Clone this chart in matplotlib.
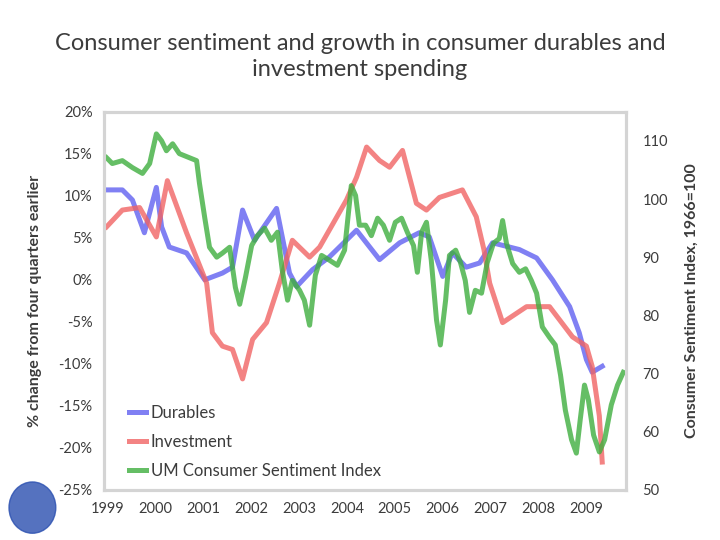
import matplotlib
matplotlib.use("Agg")
import matplotlib.pyplot as plt
from matplotlib.patches import Ellipse

plt.rcParams['font.family'] = ['Lato', 'DejaVu Sans']

# durables, % change from four quarters earlier
dur_t = [1998.98, 1999.31, 1999.52, 1999.77, 2000.02, 2000.13, 2000.29, 2000.65,
         2001.03, 2001.40, 2001.61, 2001.82, 2002.07, 2002.53, 2002.80, 2002.95,
         2003.28, 2003.63, 2004.20, 2004.68, 2005.10, 2005.51, 2005.72, 2006.00,
         2006.20, 2006.49, 2006.77, 2007.04, 2007.60, 2007.96, 2008.29, 2008.65,
         2008.85, 2009.00, 2009.12, 2009.33]
dur_v = [10.7, 10.7, 9.5, 5.6, 11.0, 6.3, 3.9, 3.2,
         0.0, 0.8, 1.5, 8.3, 4.7, 8.5, 0.8, -0.8,
         1.2, 2.7, 5.9, 2.4, 4.4, 5.6, 5.1, 0.4,
         3.2, 1.5, 2.0, 4.4, 3.6, 2.6, 0.0, -3.2,
         -6.3, -9.5, -11.0, -10.3]

# investment, % change from four quarters earlier
inv_t = [1998.98, 1999.31, 1999.67, 2000.02, 2000.25, 2000.65, 2001.07, 2001.19,
         2001.40, 2001.61, 2001.82, 2002.03, 2002.32, 2002.59, 2002.86, 2003.22,
         2003.43, 2003.99, 2004.20, 2004.41, 2004.68, 2004.89, 2005.16, 2005.45,
         2005.66, 2005.93, 2006.41, 2006.70, 2006.86, 2006.98, 2007.25, 2007.75,
         2008.23, 2008.71, 2009.00, 2009.12, 2009.27, 2009.33]
inv_v = [6.3, 8.3, 8.6, 5.1, 11.8, 5.6, -0.4, -6.3,
         -7.9, -8.3, -11.8, -7.1, -5.1, -0.4, 4.7, 2.7,
         3.9, 9.5, 12.2, 15.8, 14.2, 13.4, 15.4, 9.1,
         8.3, 9.8, 10.7, 7.5, 3.6, -0.4, -5.1, -3.2,
         -3.2, -6.8, -7.9, -10.3, -16.2, -21.7]

# UM consumer sentiment index, 1966=100
sent_t = [1998.98, 1999.10, 1999.31, 1999.52, 1999.73, 1999.88, 2000.02, 2000.13,
          2000.23, 2000.36, 2000.50, 2000.71, 2000.86, 2000.92, 2001.03, 2001.13,
          2001.28, 2001.40, 2001.55, 2001.67, 2001.76, 2001.88, 2002.01, 2002.13,
          2002.28, 2002.42, 2002.55, 2002.65, 2002.76, 2002.86, 2003.01, 2003.11,
          2003.22, 2003.34, 2003.47, 2003.63, 2003.80, 2003.95, 2004.09, 2004.18,
          2004.26, 2004.39, 2004.51, 2004.64, 2004.76, 2004.89, 2005.01, 2005.14,
          2005.26, 2005.39, 2005.47, 2005.56, 2005.66, 2005.76, 2005.87, 2005.95,
          2006.06, 2006.14, 2006.27, 2006.37, 2006.47, 2006.56, 2006.68, 2006.81,
          2006.93, 2007.06, 2007.18, 2007.25, 2007.33, 2007.46, 2007.60, 2007.73,
          2007.85, 2007.96, 2008.08, 2008.23, 2008.35, 2008.46, 2008.56, 2008.69,
          2008.79, 2008.87, 2008.96, 2009.04, 2009.15, 2009.27, 2009.38, 2009.52,
          2009.65, 2009.77]
sent_v = [107.1, 106.1, 106.6, 105.4, 104.4, 106.1, 111.2, 110.0,
          108.3, 109.5, 107.8, 107.1, 106.6, 102.7, 96.8, 91.7,
          90.0, 90.7, 91.7, 84.8, 81.9, 86.5, 92.0, 93.7,
          95.0, 92.9, 94.3, 87.7, 82.6, 86.0, 84.3, 82.6,
          78.3, 86.9, 90.3, 89.5, 88.6, 91.2, 102.3, 100.6,
          95.5, 95.5, 93.7, 96.7, 95.5, 92.9, 96.0, 96.7,
          94.3, 92.0, 87.4, 94.3, 96.0, 89.5, 79.2, 74.9,
          82.6, 90.3, 91.2, 89.1, 86.0, 80.5, 84.3, 83.8,
          89.1, 92.4, 93.2, 96.3, 92.4, 88.9, 87.4, 88.0,
          86.0, 83.8, 78.0, 76.2, 74.9, 69.7, 63.7, 58.6,
          56.3, 62.0, 68.0, 65.5, 59.4, 56.5, 58.6, 64.6,
          68.0, 70.2]

left_ticks = [20, 15, 10, 5, 0, -5, -10, -15, -20, -25]
right_ticks = [50, 60, 70, 80, 90, 100, 110]
years = list(range(1999, 2010))

txt = '#3c3c3c'
edge = '#d4d4d4'

fig = plt.figure(figsize=(7.2, 5.4), dpi=100)
ax = fig.add_axes([0.144, 0.093, 0.725, 0.700])
ax2 = ax.twinx()

l1, = ax.plot(dur_t, dur_v, color='#6060f0', lw=3.6, alpha=0.8, label='Durables')
l2, = ax.plot(inv_t, inv_v, color='#f06464', lw=3.6, alpha=0.8, label='Investment')
l3, = ax2.plot(sent_t, sent_v, color='#3fae3f', lw=3.6, alpha=0.8,
               label='UM Consumer Sentiment Index')

ax.set_xlim(1998.92, 2009.82)
ax.set_ylim(-25, 20)
ax2.set_ylim(50, 115)
ax.set_xticks(years)
ax.set_xticklabels([str(y) for y in years])
ax.set_yticks(left_ticks)
ax.set_yticklabels(['%d%%' % v for v in left_ticks])
ax2.set_yticks(right_ticks)

for a in (ax, ax2):
    for s in a.spines.values():
        s.set_color(edge)
        s.set_linewidth(2.2)
    a.tick_params(colors=txt, labelsize=10.5, length=0)
ax.tick_params(axis='x', pad=9)
ax.tick_params(axis='y', pad=8)
ax2.tick_params(axis='y', pad=12)

ax.set_ylabel('% change from four quarters earlier', fontsize=11.5,
              fontweight='bold', color=txt, labelpad=12)
ax2.set_ylabel('Consumer Sentiment Index, 1966=100', fontsize=11.5,
               fontweight='bold', color=txt, rotation=90, labelpad=12)

fig.text(0.5, 0.895, 'Consumer sentiment and growth in consumer durables and\ninvestment spending',
         ha='center', va='center', fontsize=17, color=txt, linespacing=1.3)

ax.legend(handles=[l1, l2, l3], loc='lower left', bbox_to_anchor=(0.02, -0.012),
          frameon=False, fontsize=12, handlelength=1.0, handletextpad=0.3,
          labelspacing=0.8, labelcolor=txt)

# small logo in bottom left corner
fig.patches.append(Ellipse((0.045, 0.06), 0.065, 0.095, transform=fig.transFigure,
                           color='#2a4fb0', alpha=0.8))

fig.savefig('out.png', dpi=100)
